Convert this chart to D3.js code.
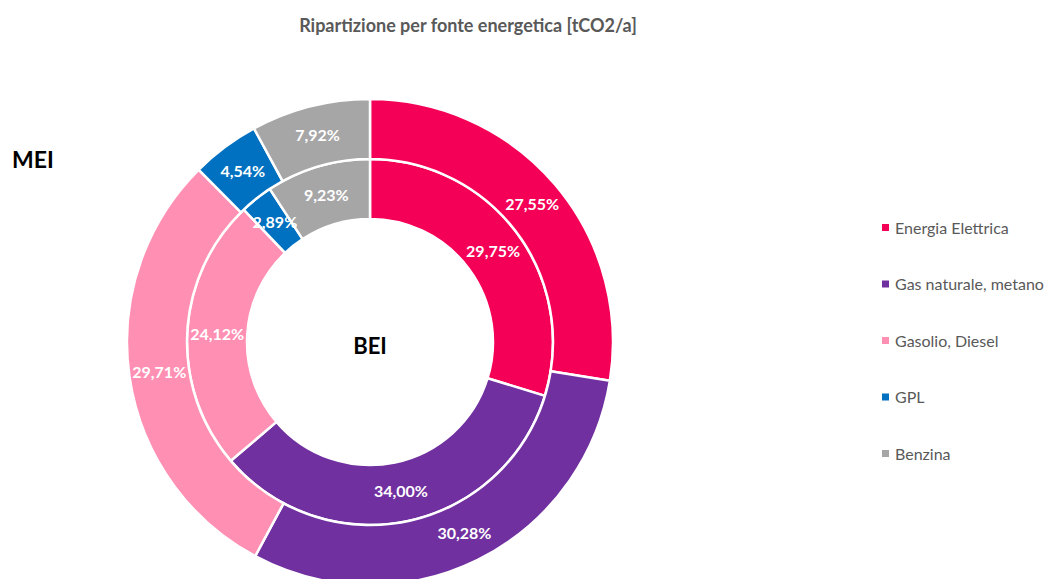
<!DOCTYPE html>
<html>
	<head>
		<title>Ripartizione per fonte energetica</title>
		<style>
* {
	margin: 0;
	padding: 0;
}
body {
	background-color: #ffffff;
	font-family: "Lato", "Open Sans", sans-serif;
}
svg {
	display: block;
}
		</style>
	</head>
	<body>
		<div id="chart"></div>
		<script src="https://cdn.jsdelivr.net/npm/d3@7"></script>
		<script>

var categories = [ 'Energia Elettrica', 'Gas naturale, metano', 'Gasolio, Diesel', 'GPL', 'Benzina' ];
var bei = [ 29.75, 34.00, 24.12, 2.89, 9.23 ];
var mei = [ 27.55, 30.28, 29.71, 4.54, 7.92 ];
var colors = [ '#F50057', '#7030A0', '#FF8FB3', '#0070C0', '#A6A6A6' ];

var width = 1048;
var height = 579;
var cx = 370;
var cy = 342;

var svg = d3.select( '#chart' ).append( 'svg' )
	.attr( 'width', width )
	.attr( 'height', height );

svg.append( 'text' )
	.attr( 'x', 468 )
	.attr( 'y', 32 )
	.attr( 'text-anchor', 'middle' )
	.style( 'font-size', '18px' )
	.style( 'font-weight', 700 )
	.style( 'fill', '#595959' )
	.text( 'Ripartizione per fonte energetica [tCO2/a]' );

var pie = d3.pie().sort( null ).value( function ( d ) { return d; } );

var rings = [
	{ name: 'BEI', values: bei, inner: 123, outer: 183 },
	{ name: 'MEI', values: mei, inner: 183, outer: 243 }
];

var fmt = function ( v ) {
	return v.toFixed( 2 ).replace( '.', ',' ) + '%';
};

var g = svg.append( 'g' )
	.attr( 'transform', 'translate(' + cx + ',' + cy + ')' );

rings.forEach( function ( ring ) {
	var arc = d3.arc().innerRadius( ring.inner ).outerRadius( ring.outer );
	var arcs = pie( ring.values );

	g.append( 'g' ).selectAll( 'path' )
		.data( arcs )
		.enter()
		.append( 'path' )
		.attr( 'd', arc )
		.style( 'fill', function ( d, i ) { return colors[i]; } )
		.style( 'stroke', 'white' )
		.style( 'stroke-width', 2.5 );

	g.append( 'g' ).selectAll( 'text' )
		.data( arcs )
		.enter()
		.append( 'text' )
		.attr( 'transform', function ( d ) { return 'translate(' + arc.centroid( d ) + ')'; } )
		.attr( 'text-anchor', 'middle' )
		.attr( 'dy', '0.35em' )
		.style( 'font-size', '16px' )
		.style( 'font-weight', 700 )
		.style( 'fill', '#ffffff' )
		.text( function ( d ) { return fmt( d.data ); } );
} );

g.append( 'text' )
	.attr( 'x', 0 )
	.attr( 'y', 12 )
	.attr( 'text-anchor', 'middle' )
	.style( 'font-size', '22px' )
	.style( 'font-weight', 700 )
	.style( 'fill', '#000000' )
	.text( 'BEI' );

svg.append( 'text' )
	.attr( 'x', 12 )
	.attr( 'y', 168 )
	.style( 'font-size', '23px' )
	.style( 'font-weight', 700 )
	.style( 'fill', '#000000' )
	.text( 'MEI' );

var legend = svg.append( 'g' ).selectAll( 'g' )
	.data( categories )
	.enter()
	.append( 'g' )
	.attr( 'transform', function ( d, i ) { return 'translate(882,' + ( 228 + i * 56.5 ) + ')'; } );

legend.append( 'rect' )
	.attr( 'x', 0 )
	.attr( 'y', -4 )
	.attr( 'width', 7 )
	.attr( 'height', 7 )
	.style( 'fill', function ( d, i ) { return colors[i]; } );

legend.append( 'text' )
	.attr( 'x', 13 )
	.attr( 'y', 0 )
	.attr( 'dy', '0.35em' )
	.style( 'font-size', '16px' )
	.style( 'fill', '#595959' )
	.text( function ( d ) { return d; } );

		</script>
	</body>
</html>
